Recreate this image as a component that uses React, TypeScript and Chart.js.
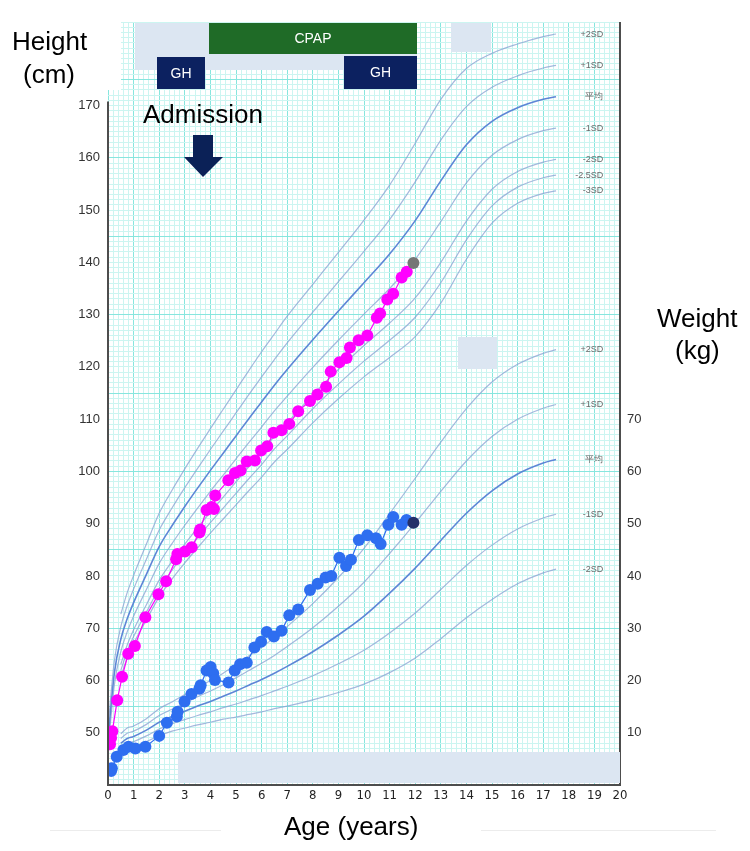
import { useEffect, useRef } from 'react';
import { Chart, registerables } from 'chart.js';

Chart.register(...registerables);

// Reference height curves (cm), boys, by age in years
const H_AGES = [0, 0.25, 0.5, 0.75, 1, 1.5, 2, 2.5, 3, 3.5, 4, 4.5, 5, 5.5, 6, 6.5, 7, 8, 9, 10, 11, 12, 13, 14, 15, 16, 17, 17.5];
const H_P2 = [null, null, 72.7, 76.8, 80.1, 86.1, 92.0, 96.4, 100.5, 104.4, 108.2, 111.9, 115.6, 119.3, 122.9, 126.3, 129.7, 135.8, 141.9, 148.1, 154.8, 162.8, 171.2, 177.1, 180.0, 181.8, 183.2, 183.7];
const H_P1 = [51.1, 63.8, 70.3, 74.3, 77.5, 83.2, 88.8, 93.0, 96.9, 100.6, 104.2, 107.7, 111.2, 114.7, 118.1, 121.4, 124.6, 130.5, 136.3, 142.1, 148.2, 155.4, 163.4, 169.8, 173.5, 175.7, 177.2, 177.7];
const H_MEAN = [49.0, 61.5, 67.9, 71.8, 74.9, 80.3, 85.6, 89.6, 93.3, 96.8, 100.2, 103.5, 106.8, 110.1, 113.3, 116.5, 119.5, 125.2, 130.7, 136.1, 141.6, 148.0, 155.6, 162.5, 167.0, 169.6, 171.2, 171.7];
const H_M1 = [46.9, 59.2, 65.5, 69.3, 72.3, 77.4, 82.4, 86.2, 89.7, 93.0, 96.2, 99.3, 102.4, 105.5, 108.5, 111.6, 114.4, 119.9, 125.1, 130.1, 135.0, 140.6, 147.8, 155.2, 160.5, 163.5, 165.2, 165.7];
const H_M2 = [null, null, 63.1, 66.8, 69.7, 74.5, 79.2, 82.8, 86.1, 89.2, 92.2, 95.1, 98.0, 100.9, 103.7, 106.7, 109.3, 114.6, 119.5, 124.1, 128.4, 133.2, 140.0, 147.9, 154.0, 157.4, 159.2, 159.7];
const H_M25 = [null, null, 61.9, 65.6, 68.4, 73.1, 77.6, 81.1, 84.3, 87.3, 90.2, 93.0, 95.8, 98.6, 101.3, 104.3, 106.8, 112.0, 116.7, 121.1, 125.1, 129.5, 136.1, 144.3, 150.8, 154.4, 156.2, 156.7];
const H_M3 = [null, null, 60.7, 64.3, 67.1, 71.6, 76.0, 79.4, 82.5, 85.4, 88.2, 90.9, 93.6, 96.3, 98.9, 101.8, 104.2, 109.3, 113.9, 118.1, 121.8, 125.8, 132.2, 140.6, 147.5, 151.3, 153.2, 153.7];
const H_LABELS = ['+2SD', '+1SD', '平均', '-1SD', '-2SD', '-2.5SD', '-3SD'];

// Reference weight curves (kg), boys
const W_AGES = [0.5, 0.75, 1, 1.5, 2, 2.5, 3, 3.5, 4, 4.5, 5, 5.5, 6, 6.5, 7, 8, 9, 10, 11, 12, 13, 14, 15, 16, 17, 17.5];
const W_P2 = [9.8, 10.9, 11.3, 12.7, 14.6, 15.9, 17.3, 18.7, 20.0, 21.4, 23.0, 24.7, 26.4, 28.2, 30.3, 34.7, 39.7, 45.3, 51.9, 58.7, 65.6, 72.0, 77.1, 80.5, 82.6, 83.3];
const W_P1 = [8.9, 9.9, 10.3, 11.6, 13.3, 14.5, 15.7, 16.9, 18.0, 19.2, 20.5, 21.9, 23.3, 24.8, 26.5, 30.1, 34.2, 38.8, 44.3, 50.1, 56.2, 62.0, 66.7, 70.0, 72.1, 72.8];
const W_MEAN = [8.0, 8.9, 9.3, 10.5, 12.0, 13.1, 14.1, 15.1, 16.0, 17.0, 18.0, 19.1, 20.2, 21.4, 22.7, 25.5, 28.7, 32.3, 36.7, 41.5, 46.8, 52.0, 56.3, 59.5, 61.6, 62.3];
const W_M1 = [7.1, 7.9, 8.3, 9.4, 10.7, 11.7, 12.5, 13.3, 14.0, 14.8, 15.5, 16.3, 17.1, 18.0, 18.9, 20.9, 23.2, 25.8, 29.1, 32.9, 37.4, 42.0, 45.9, 49.0, 51.1, 51.8];
const W_M2 = [6.2, 6.9, 7.3, 8.3, 9.4, 10.3, 10.9, 11.5, 12.0, 12.6, 13.0, 13.5, 14.0, 14.6, 15.1, 16.3, 17.7, 19.3, 21.5, 24.3, 28.0, 32.0, 35.5, 38.5, 40.6, 41.3];
const W_LABELS = ['+2SD', '+1SD', '平均', '-1SD', '-2SD'];

// Patient measurements
const HEIGHT_AGE = [0.08, 0.12, 0.17, 0.36, 0.55, 0.79, 1.05, 1.46, 1.97, 2.27, 2.66, 2.71, 3.01, 3.27, 3.57, 3.6, 3.85, 4.05, 4.14, 4.19, 4.7, 4.96, 5.18, 5.42, 5.74, 5.98, 6.22, 6.46, 6.78, 7.08, 7.43, 7.89, 8.18, 8.52, 8.7, 9.04, 9.32, 9.45, 9.79, 10.13, 10.5, 10.63, 10.91, 11.14, 11.47, 11.67, 11.93];
const HEIGHT_CM = [47.8, 49.0, 50.3, 56.2, 60.7, 65.1, 66.6, 72.1, 76.5, 79.0, 83.2, 84.2, 84.7, 85.5, 88.3, 88.9, 92.6, 93.2, 92.8, 95.4, 98.3, 99.7, 100.2, 101.9, 102.1, 104.0, 104.8, 107.4, 107.9, 109.1, 111.5, 113.5, 114.7, 116.2, 119.1, 120.9, 121.7, 123.7, 125.1, 126.0, 129.4, 130.2, 132.9, 134.0, 137.1, 138.2, 139.9];
const WEIGHT_AGE = [0.12, 0.15, 0.34, 0.6, 0.8, 1.07, 1.46, 2.0, 2.3, 2.69, 2.72, 2.99, 3.26, 3.57, 3.62, 3.85, 4.01, 4.11, 4.18, 4.71, 4.95, 5.16, 5.42, 5.72, 5.98, 6.2, 6.48, 6.78, 7.08, 7.43, 7.89, 8.19, 8.5, 8.72, 9.04, 9.3, 9.49, 9.8, 10.13, 10.47, 10.65, 10.95, 11.14, 11.47, 11.66, 11.93];
const WEIGHT_KG = [2.7, 3.2, 5.4, 6.7, 7.3, 7.0, 7.3, 9.4, 11.9, 13.1, 14.0, 16.0, 17.4, 18.4, 19.1, 21.9, 22.6, 21.4, 20.1, 19.6, 21.9, 23.1, 23.4, 26.3, 27.4, 29.3, 28.4, 29.5, 32.5, 33.6, 37.3, 38.5, 39.7, 40.0, 43.5, 41.9, 43.1, 46.9, 47.8, 47.2, 46.1, 49.8, 51.3, 49.8, 50.7, 50.2];

const X_TICKS = ['0', '1', '2', '3', '4', '5', '6', '7', '8', '9', '10', '11', '12', '13', '14', '15', '16', '17', '18', '19', '20'];

const GRID_MINOR = 'rgb(204,245,241)';
const GRID_MAJOR = 'rgb(135,230,222)';
const CURVE = 'rgba(135,160,210,0.75)';
const CURVE_MEAN = 'rgba(85,128,212,0.95)';
const NARROW = "'Liberation Sans Narrow', 'DejaVu Sans Condensed', 'Liberation Sans', Arial, sans-serif";
const SANS = "'Liberation Sans', Arial, sans-serif";

const pts = (xs: number[], ys: (number | null)[]) => xs.map((x, i) => ({ x, y: ys[i] }));

const curve = (xs: number[], ys: (number | null)[], axis: string, mean: boolean, tag: string) => ({
  label: tag,
  data: pts(xs, ys),
  yAxisID: axis,
  showLine: true,
  borderColor: mean ? CURVE_MEAN : CURVE,
  borderWidth: mean ? 1.6 : 1.2,
  pointRadius: 0,
  cubicInterpolationMode: 'monotone' as const,
  spanGaps: false,
  order: 2,
});

const isInt = (v: number) => Math.abs(v - Math.round(v)) < 1e-6;

const framePlugin = {
  id: 'frame',
  afterDatasetsDraw(chart: any) {
    const { ctx, chartArea: a, scales } = chart;
    ctx.save();
    // SD labels at curve ends
    ctx.font = `9px ${SANS}`;
    ctx.fillStyle = '#6a6a6a';
    ctx.textAlign = 'right';
    ctx.textBaseline = 'middle';
    const lx = scales.x.getPixelForValue(19.35);
    const hSets = [H_P2, H_P1, H_MEAN, H_M1, H_M2, H_M25, H_M3];
    hSets.forEach((s, i) => {
      ctx.fillText(H_LABELS[i], lx, scales.y.getPixelForValue(s[s.length - 1] as number));
    });
    const wSets = [W_P2, W_P1, W_MEAN, W_M1, W_M2];
    wSets.forEach((s, i) => {
      ctx.fillText(W_LABELS[i], lx, scales.yW.getPixelForValue(s[s.length - 1]));
    });
    // axis frame
    ctx.strokeStyle = '#4d4d4d';
    ctx.lineWidth = 2;
    ctx.beginPath();
    const yTop = scales.y.getPixelForValue(170) - 4;
    ctx.moveTo(a.left, yTop);
    ctx.lineTo(a.left, a.bottom);
    ctx.lineTo(a.right, a.bottom);
    ctx.lineTo(a.right, a.top);
    ctx.stroke();
    ctx.restore();
  },
};

const box = (left: number, top: number, width: number, height: number, bg: string): any => ({
  position: 'absolute', left, top, width, height, background: bg,
});

const label = (left: number, top: number, size: number): any => ({
  position: 'absolute', left, top, fontSize: size, lineHeight: `${size}px`, color: '#000', whiteSpace: 'nowrap', fontFamily: SANS,
});

export default function App() {
  const ref = useRef<HTMLCanvasElement>(null);

  useEffect(() => {
    const canvas = ref.current;
    if (!canvas) return;
    const chart = new Chart(canvas, {
      type: 'scatter',
      data: {
        datasets: [
          {
            label: 'Height',
            data: pts(HEIGHT_AGE, HEIGHT_CM),
            yAxisID: 'y',
            showLine: true,
            borderColor: '#ff00ff',
            borderWidth: 1.2,
            pointRadius: 6,
            pointBorderWidth: 0,
            pointBackgroundColor: HEIGHT_CM.map((_, i) => (i === HEIGHT_CM.length - 1 ? '#767676' : '#ff00ff')),
            order: 0,
          },
          {
            label: 'Weight',
            data: pts(WEIGHT_AGE, WEIGHT_KG),
            yAxisID: 'yW',
            showLine: true,
            borderColor: '#2e6ef0',
            borderWidth: 1.2,
            pointRadius: 6,
            pointBorderWidth: 0,
            pointBackgroundColor: WEIGHT_KG.map((_, i) => (i === WEIGHT_KG.length - 1 ? '#24306a' : '#2e6ef0')),
            order: 0,
          },
          curve(H_AGES, H_P2, 'y', false, 'H +2SD'),
          curve(H_AGES, H_P1, 'y', false, 'H +1SD'),
          curve(H_AGES, H_MEAN, 'y', true, 'H mean'),
          curve(H_AGES, H_M1, 'y', false, 'H -1SD'),
          curve(H_AGES, H_M2, 'y', false, 'H -2SD'),
          curve(H_AGES, H_M25, 'y', false, 'H -2.5SD'),
          curve(H_AGES, H_M3, 'y', false, 'H -3SD'),
          curve(W_AGES, W_P2, 'yW', false, 'W +2SD'),
          curve(W_AGES, W_P1, 'yW', false, 'W +1SD'),
          curve(W_AGES, W_MEAN, 'yW', true, 'W mean'),
          curve(W_AGES, W_M1, 'yW', false, 'W -1SD'),
          curve(W_AGES, W_M2, 'yW', false, 'W -2SD'),
        ] as any,
      },
      options: {
        responsive: false,
        animation: false,
        events: [],
        layout: { padding: { top: 22, left: 0, right: 0, bottom: 0 } },
        plugins: { legend: { display: false }, tooltip: { enabled: false } },
        scales: {
          x: {
            type: 'linear',
            min: 0,
            max: 20,
            position: 'bottom',
            afterFit: (s: any) => { s.height = 66; },
            border: { display: false },
            grid: {
              drawTicks: false,
              lineWidth: 1,
              color: (c: any) => (c.tick && isInt(c.tick.value) ? GRID_MAJOR : GRID_MINOR),
            },
            ticks: {
              stepSize: 0.2,
              autoSkip: false,
              maxRotation: 0,
              padding: 3,
              color: '#222',
              font: { family: NARROW, size: 13 },
              callback: (v: any) => (isInt(Number(v)) ? X_TICKS[Math.round(Number(v))] : ''),
            },
          },
          y: {
            type: 'linear',
            min: 40,
            max: 186,
            position: 'left',
            afterFit: (s: any) => { s.width = 108; },
            border: { display: false },
            grid: {
              drawTicks: false,
              lineWidth: 1,
              color: (c: any) => (c.tick && isInt(c.tick.value) && Math.round(c.tick.value - 40) % 15 === 0 ? GRID_MAJOR : GRID_MINOR),
            },
            ticks: {
              stepSize: 1,
              maxTicksLimit: 500,
              autoSkip: false,
              padding: 8,
              color: '#333',
              font: { family: SANS, size: 13 },
              callback: (v: any) => {
                const n = Math.round(Number(v));
                return isInt(Number(v)) && n % 10 === 0 && n >= 50 && n <= 170 ? String(n) : '';
              },
            },
          },
          yW: {
            type: 'linear',
            min: 0,
            max: 146,
            position: 'right',
            afterFit: (s: any) => { s.width = 130; },
            border: { display: false },
            grid: { display: false, drawTicks: false },
            ticks: {
              stepSize: 10,
              autoSkip: false,
              padding: 7,
              color: '#333',
              font: { family: SANS, size: 13 },
              callback: (v: any) => {
                const n = Math.round(Number(v));
                return isInt(Number(v)) && n % 10 === 0 && n >= 10 && n <= 70 ? String(n) : '';
              },
            },
          },
        },
      } as any,
      plugins: [framePlugin],
    });
    return () => chart.destroy();
  }, []);

  return (
    <div style={{ position: 'absolute', left: 0, top: 0, width: 750, height: 851, background: '#fff', overflow: 'hidden', fontFamily: SANS }}>
      <canvas ref={ref} width={750} height={851} style={{ position: 'absolute', left: 0, top: 0 }} />
      {/* blank corner above the height axis */}
      <div style={box(100, 18, 21, 72, '#fff')} />
      {/* treatment bands */}
      <div style={box(135, 23, 282, 47, '#dce6f2')} />
      <div style={{ ...box(209, 23, 208, 31, '#1f6b27'), color: '#fff', fontSize: 14, lineHeight: '31px', textAlign: 'center' }}>CPAP</div>
      <div style={{ ...box(157, 57, 48, 32, '#0c2160'), color: '#fff', fontSize: 14, lineHeight: '32px', textAlign: 'center' }}>GH</div>
      <div style={{ ...box(344, 56, 73, 33, '#0c2160'), color: '#fff', fontSize: 14, lineHeight: '33px', textAlign: 'center' }}>GH</div>
      <div style={box(451, 23, 40, 29, '#dce6f2')} />
      <div style={box(458, 337, 39, 32, '#dce6f2')} />
      <div style={box(178, 752, 442, 31, '#dce6f2')} />
      {/* axis titles */}
      <div style={label(12, 28, 26)}>Height</div>
      <div style={label(23, 61, 26)}>(cm)</div>
      <div style={label(657, 305, 26)}>Weight</div>
      <div style={label(675, 337, 26)}>(kg)</div>
      <div style={label(284, 813, 26)}>Age (years)</div>
      <div style={box(50, 830, 171, 1, '#ececec')} />
      <div style={box(481, 830, 235, 1, '#ececec')} />
      {/* admission marker */}
      <div style={label(143, 101, 26)}>Admission</div>
      <svg width={750} height={851} style={{ position: 'absolute', left: 0, top: 0, pointerEvents: 'none' }}>
        <polygon points="193,135 213,135 213,157 223,157 203,177 184,157 193,157" fill="#0b2157" />
      </svg>
    </div>
  );
}
